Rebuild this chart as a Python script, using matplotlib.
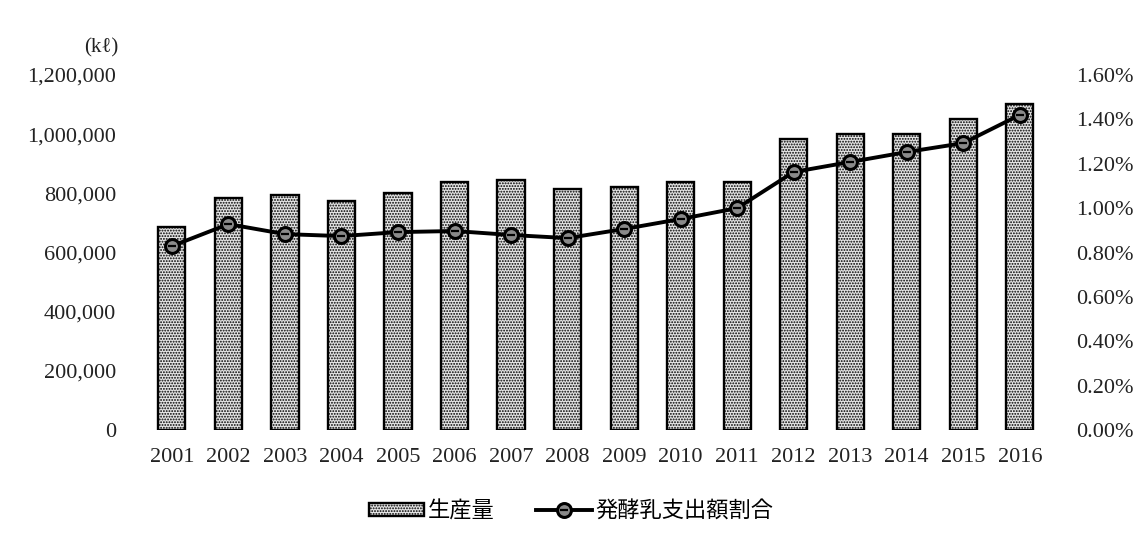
import matplotlib
matplotlib.use("Agg")
import matplotlib.pyplot as plt
from matplotlib.ticker import FuncFormatter, MultipleLocator
from matplotlib.lines import Line2D
from matplotlib.patches import Patch

years = [str(y) for y in range(2001, 2017)]
production_kl = [686000, 784000, 794000, 774000, 801000, 838000, 845000, 815000,
                 821000, 838000, 838000, 984000, 1001000, 1001000, 1051000, 1102000]
spending_share_pct = [0.829, 0.928, 0.883, 0.874, 0.892, 0.897, 0.879, 0.865,
                      0.906, 0.951, 1.000, 1.163, 1.208, 1.253, 1.293, 1.420]
bar_label = "生産量"
line_label = "発酵乳支出額割合"
unit_label = "(kℓ)"

serif = ["Liberation Serif", "DejaVu Serif"]
cjk = ["Noto Sans CJK JP", "DejaVu Sans"]
plt.rcParams["hatch.linewidth"] = 0.9

fig = plt.figure(figsize=(11.42, 5.39), dpi=100)
ax = fig.add_axes([0.1258, 0.2022, 0.7919, 0.6586])
ax2 = ax.twinx()

bar_style = dict(facecolor="#e4e4e4", edgecolor="black", linewidth=1.7, hatch="......")
marker_ring = dict(marker="o", markersize=10, markerfacecolor="#8a8a8a",
                   markeredgecolor="black", markeredgewidth=2.2)
marker_dash = dict(marker="_", markersize=6, markeredgecolor="black", markeredgewidth=1.6)

x = range(len(years))
ax.bar(x, production_kl, width=0.48, zorder=2, **bar_style)
ax.set_xlim(-0.5, len(years) - 0.5)
ax.set_ylim(0, 1200000)
ax.yaxis.set_major_locator(MultipleLocator(200000))
ax.yaxis.set_major_formatter(FuncFormatter(lambda v, p: f"{int(v):,}"))
ax.set_xticks(list(x))
ax.set_xticklabels(years)

ax2.plot(x, spending_share_pct, color="black", linewidth=2.8, zorder=3)
ax2.plot(x, spending_share_pct, linestyle="none", zorder=4, **marker_ring)
ax2.plot(x, spending_share_pct, linestyle="none", zorder=5, **marker_dash)
ax2.set_ylim(0, 1.6)
ax2.yaxis.set_major_locator(MultipleLocator(0.2))
ax2.yaxis.set_major_formatter(FuncFormatter(lambda v, p: f"{v:.2f}%"))

for a in (ax, ax2):
    for s in a.spines.values():
        s.set_visible(False)
    a.tick_params(length=0)
ax.tick_params(axis="y", pad=20)
ax.tick_params(axis="x", pad=13)
ax2.tick_params(axis="y", pad=20)
for lab in ax.get_xticklabels() + ax.get_yticklabels() + ax2.get_yticklabels():
    lab.set_fontfamily(serif)
    lab.set_fontsize(16)
    lab.set_color("#222222")

fig.text(0.089, 0.911, unit_label, family=serif, fontsize=15, color="#222222",
         ha="center", va="center")

bar_handle = Patch(**bar_style)
line_handle = (Line2D([], [], color="black", linewidth=2.8),
               Line2D([], [], linestyle="none", **marker_ring),
               Line2D([], [], linestyle="none", **marker_dash))
fig.legend([bar_handle, line_handle], [bar_label, line_label], loc="center",
           bbox_to_anchor=(0.5, 0.052), ncol=2, frameon=False,
           prop={"family": cjk, "size": 16}, handlelength=2.5, handleheight=0.55,
           handletextpad=0.15, columnspacing=1.9)

fig.savefig("out.png", dpi=100, facecolor="white")
